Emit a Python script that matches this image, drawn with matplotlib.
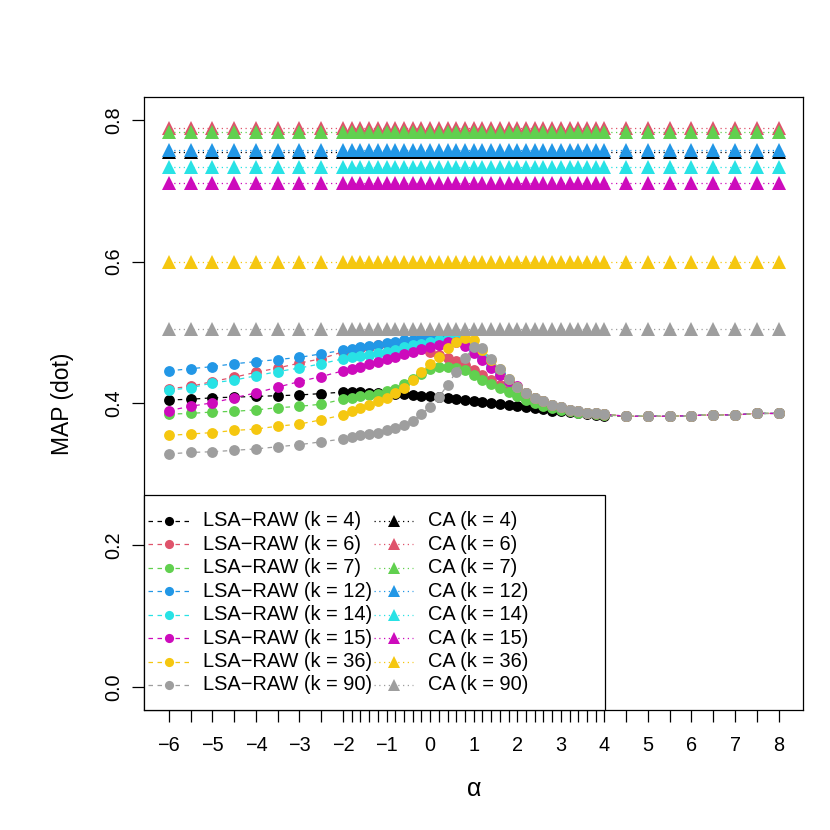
import matplotlib
matplotlib.use("Agg")
import matplotlib.pyplot as plt
from matplotlib.lines import Line2D
from matplotlib.patches import Rectangle

plt.rcParams['font.family'] = ['Liberation Sans', 'DejaVu Sans']

# alpha values (x positions of the points)
alpha = [-6, -5.5, -5, -4.5, -4, -3.5, -3, -2.5,
         -2, -1.8, -1.6, -1.4, -1.2, -1, -0.8, -0.6, -0.4, -0.2,
         0, 0.2, 0.4, 0.6, 0.8, 1, 1.2, 1.4, 1.6, 1.8, 2,
         2.2, 2.4, 2.6, 2.8, 3, 3.2, 3.4, 3.6, 3.8, 4,
         4.5, 5, 5.5, 6, 6.5, 7, 7.5, 8]

ks = [4, 6, 7, 12, 14, 15, 36, 90]
colors = ["black", "#DF536B", "#61D04F", "#2297E6", "#28E2E5", "#CD0BBC", "#F5C710", "#9E9E9E"]

tail = [0.382, 0.382, 0.382, 0.383, 0.384, 0.384, 0.386, 0.386]

lsa_k4 = [0.405, 0.406, 0.408, 0.409, 0.410, 0.411, 0.412, 0.414,
          0.416, 0.416, 0.416, 0.415, 0.415, 0.414, 0.414, 0.413, 0.412, 0.411,
          0.410, 0.409, 0.408, 0.406, 0.405, 0.404, 0.402, 0.401, 0.399, 0.398, 0.396,
          0.395, 0.393, 0.392, 0.390, 0.389, 0.388, 0.386, 0.385, 0.384, 0.383] + tail
lsa_k6 = [0.421, 0.424, 0.431, 0.437, 0.444, 0.450, 0.457, 0.463,
          0.473, 0.476, 0.478, 0.480, 0.482, 0.484, 0.485, 0.484, 0.481, 0.477,
          0.472, 0.468, 0.464, 0.460, 0.454, 0.447, 0.440, 0.433, 0.426, 0.419, 0.413,
          0.407, 0.402, 0.398, 0.395, 0.392, 0.390, 0.388, 0.386, 0.385, 0.384] + tail
lsa_k7 = [0.385, 0.386, 0.388, 0.389, 0.391, 0.394, 0.396, 0.399,
          0.406, 0.408, 0.410, 0.412, 0.414, 0.417, 0.420, 0.428, 0.434, 0.442,
          0.448, 0.451, 0.452, 0.450, 0.447, 0.440, 0.433, 0.428, 0.422, 0.416, 0.410,
          0.405, 0.401, 0.397, 0.394, 0.391, 0.389, 0.387, 0.386, 0.385, 0.384] + tail
lsa_k12 = [0.446, 0.449, 0.452, 0.456, 0.459, 0.462, 0.465, 0.470,
           0.475, 0.477, 0.479, 0.481, 0.483, 0.485, 0.487, 0.489, 0.490, 0.492,
           0.493, 0.494, 0.494, 0.492, 0.486, 0.476, 0.464, 0.452, 0.441, 0.432, 0.423,
           0.415, 0.408, 0.403, 0.398, 0.395, 0.391, 0.389, 0.387, 0.386, 0.385] + tail
lsa_k14 = [0.419, 0.422, 0.429, 0.433, 0.439, 0.445, 0.450, 0.456,
           0.463, 0.465, 0.467, 0.469, 0.471, 0.473, 0.476, 0.479, 0.482, 0.484,
           0.487, 0.489, 0.491, 0.491, 0.487, 0.477, 0.465, 0.452, 0.441, 0.432, 0.423,
           0.415, 0.408, 0.403, 0.398, 0.395, 0.391, 0.389, 0.387, 0.386, 0.385] + tail
lsa_k15 = [0.390, 0.396, 0.401, 0.408, 0.415, 0.423, 0.431, 0.438,
           0.446, 0.449, 0.452, 0.456, 0.459, 0.463, 0.466, 0.470, 0.473, 0.477,
           0.480, 0.483, 0.486, 0.487, 0.481, 0.471, 0.462, 0.450, 0.440, 0.432, 0.424,
           0.415, 0.408, 0.403, 0.398, 0.395, 0.391, 0.389, 0.387, 0.386, 0.385] + tail
lsa_k36 = [0.355, 0.357, 0.359, 0.362, 0.364, 0.368, 0.371, 0.377,
           0.384, 0.389, 0.393, 0.398, 0.403, 0.408, 0.415, 0.422, 0.433, 0.444,
           0.455, 0.466, 0.478, 0.487, 0.492, 0.490, 0.476, 0.462, 0.448, 0.435, 0.423,
           0.415, 0.408, 0.403, 0.398, 0.395, 0.391, 0.389, 0.387, 0.386, 0.385] + tail
lsa_k90 = [0.329, 0.331, 0.332, 0.334, 0.336, 0.339, 0.342, 0.346,
           0.350, 0.353, 0.355, 0.357, 0.359, 0.363, 0.365, 0.370, 0.376, 0.385,
           0.395, 0.409, 0.426, 0.445, 0.464, 0.479, 0.478, 0.463, 0.448, 0.435, 0.423,
           0.415, 0.408, 0.403, 0.398, 0.395, 0.391, 0.389, 0.387, 0.386, 0.385] + tail

lsa = [lsa_k4, lsa_k6, lsa_k7, lsa_k12, lsa_k14, lsa_k15, lsa_k36, lsa_k90]
ca = [0.755, 0.789, 0.783, 0.757, 0.734, 0.711, 0.600, 0.505]

W = 830.0
fig = plt.figure(figsize=(8.3, 8.3), dpi=100)
L, R, T, B = 144.4, 803.0, 97.0, 710.0
ax = fig.add_axes([L / W, 1 - B / W, (R - L) / W, (B - T) / W])

dash = (0, (3.6, 3.6))
dot = (0, (1.0, 2.8))

for k, col, ys, cv in zip(ks, colors, lsa, ca):
    ax.plot(alpha, ys, linestyle=dash, color=col, linewidth=0.9,
            marker='o', markersize=7.8, markeredgewidth=0, zorder=3)
    ax.plot(alpha, [cv] * len(alpha), linestyle=dot, color=col, linewidth=0.9,
            marker='^', markersize=9.8, markeredgewidth=0, zorder=3)

ax.set_xlim(-6.56, 8.56)
ax.set_ylim(-0.032, 0.832)

ax.set_xticks(alpha)
xlabels = [(str(int(v)).replace('-', '\u2212') if float(v).is_integer() else '') for v in alpha]
ax.set_xticklabels(xlabels, fontsize=14.3)
yt = [0.0, 0.2, 0.4, 0.6, 0.8]
ax.set_yticks(yt)
ax.set_yticklabels([f"{v:.1f}" for v in yt], fontsize=14.3, rotation=90, va='center')
ax.tick_params(axis='both', direction='out', length=8.5, width=0.9, color='black')
ax.tick_params(axis='x', pad=10.5)
ax.tick_params(axis='y', pad=7)
for s in ax.spines.values():
    s.set_linewidth(0.9)

# axis titles
fig.text(((L + R) / 2) / W, 1 - 789 / W, '\u03b1', fontsize=18, ha='center', va='center')
fig.text(63 / W, 1 - ((T + B) / 2) / W, 'MAP (dot)', fontsize=16.5, rotation=90,
         ha='center', va='center')

# legend (drawn in figure pixel coordinates, like R's legend box)
def fx(px):
    return px / W

def fy(py):
    return 1 - py / W

box_top, box_right = 495.3, 605.0
ax.add_patch(Rectangle((fx(L), fy(B)), fx(box_right) - fx(L), fy(box_top) - fy(B),
                       transform=fig.transFigure, facecolor='white', edgecolor='black',
                       linewidth=0.9, zorder=10, clip_on=False))
row0, rowstep = 520.8, 23.45
for i, (k, col) in enumerate(zip(ks, colors)):
    yy = fy(row0 + i * rowstep)
    ax.add_line(Line2D([fx(148), fx(189)], [yy, yy], transform=fig.transFigure,
                       linestyle=dash, color=col, linewidth=0.9, zorder=11, clip_on=False))
    ax.add_line(Line2D([fx(168.5)], [yy], transform=fig.transFigure, linestyle='none',
                       marker='o', markersize=6.6, markeredgewidth=0, color=col,
                       zorder=12, clip_on=False))
    fig.text(fx(203), yy, f"LSA\u2212RAW (k = {k})", fontsize=14.4, ha='left', va='center',
             zorder=13)
    ax.add_line(Line2D([fx(374), fx(413)], [yy, yy], transform=fig.transFigure,
                       linestyle=dot, color=col, linewidth=0.9, zorder=11, clip_on=False))
    ax.add_line(Line2D([fx(393.5)], [yy], transform=fig.transFigure, linestyle='none',
                       marker='^', markersize=8.8, markeredgewidth=0, color=col,
                       zorder=12, clip_on=False))
    fig.text(fx(428), yy, f"CA (k = {k})", fontsize=14.4, ha='left', va='center', zorder=13)

fig.savefig('out.png', dpi=100)
